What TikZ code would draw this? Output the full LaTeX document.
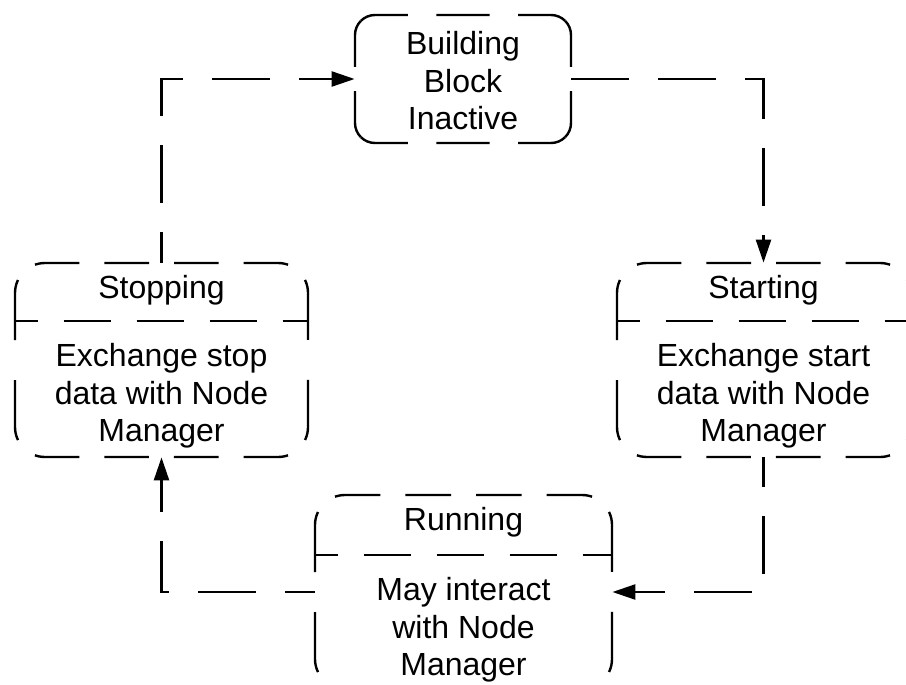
\documentclass[tikz,border=0pt]{standalone}
\usepackage{fontspec}
\setmainfont{Liberation Sans}
\usetikzlibrary{arrows.meta}
% Dashed rounded frame, drawn side by side so that each side carries its own
% dash pattern: #1,#2 = top-left, #3,#4 = bottom-right, #5 = corner radius,
% #6 = dash options of the horizontal sides, #7 = of the vertical sides.
\newcommand\dashframe[7]{%
  \pgfmathsetmacro\dfk{0.29289*#5}%
  \draw[frame,#6] ({#1+\dfk},{#2+\dfk}) arc[start angle=225,end angle=270,radius=#5]
    -- ({#3-#5},#2) arc[start angle=270,end angle=315,radius=#5];
  \draw[frame,#7] ({#3-\dfk},{#2+\dfk}) arc[start angle=-45,end angle=0,radius=#5]
    -- (#3,{#4-#5}) arc[start angle=0,end angle=45,radius=#5];
  \draw[frame,#6] ({#3-\dfk},{#4-\dfk}) arc[start angle=45,end angle=90,radius=#5]
    -- ({#1+#5},#4) arc[start angle=90,end angle=135,radius=#5];
  \draw[frame,#7] ({#1+\dfk},{#4-\dfk}) arc[start angle=135,end angle=180,radius=#5]
    -- (#1,{#2+#5}) arc[start angle=180,end angle=225,radius=#5];
}
\begin{document}
\begin{tikzpicture}[x=0.5pt,y=-0.5pt,
  frame/.style={line width=1.2pt},
  divider/.style={line width=1.2pt, dash pattern=on 23.5pt off 13pt, dash phase=12pt},
  statebox/.style={rectangle, inner sep=0pt, minimum width=#1, minimum height=97pt},
  label/.style={font=\fontsize{16}{18.75}\selectfont, align=center, inner sep=0pt},
  flow/.style={line width=1.2pt, dash pattern=on 29pt off 14.5pt,
    -{Triangle[length=11.5pt,width=7.5pt]}},
  wideh/.style={dash pattern=on 22.3pt off 12.5pt, dash phase=28.1pt},
  widerh/.style={dash pattern=on 22.8pt off 12.5pt, dash phase=28.6pt},
  tallv/.style={dash pattern=on 30.25pt off 20pt on 30.25pt off 10.05pt, dash phase=85.55pt},
  smallh/.style={dash pattern=on 48.5pt off 14.25pt on 26.7pt off 14.25pt, dash phase=24.25pt},
  smallv/.style={dash pattern=on 47.5pt off 12.2pt, dash phase=23.75pt}
]
\useasboundingbox (0,0) rectangle (906,685);
\clip (0,0) rectangle (906,685);

% state boxes (outline nodes used as anchors)
\node[statebox=108pt, minimum height=64pt] (bb) at (463,79) {};
\node[statebox=146.5pt] (stop) at (161.5,360) {};
\node[statebox=146.5pt] (start) at (763.5,360) {};
\node[statebox=148.5pt] (run) at (463.5,592) {};

% dashed frames
\dashframe{355}{15}{571}{143}{20}{smallh}{smallv}
\dashframe{15}{263}{308}{457}{30}{wideh}{tallv}
\dashframe{617}{263}{910}{457}{30}{wideh}{tallv}
\dashframe{315}{495}{612}{689}{30}{widerh}{tallv}

% compartment dividers
\draw[divider] (stop.west |- 0,321) -- (stop.east |- 0,321);
\draw[divider] (start.west |- 0,321) -- (start.east |- 0,321);
\draw[divider] (run.west |- 0,555) -- (run.east |- 0,555);

% texts
\node[label] (bbtext) at (463,81) {Building\\Block\\Inactive};
\node[label] (stoptitle) at (161.5,290) {Stopping};
\node[label] (stopbody) at (161.5,396) {Exchange stop\\data with Node\\Manager};
\node[label] (starttitle) at (763.5,290) {Starting};
\node[label] (startbody) at (763.5,396) {Exchange start\\data with Node\\Manager};
\node[label] (runtitle) at (463.5,522) {Running};
\node[label] (runbody) at (463.5,630) {May interact\\with Node\\Manager};

% transitions
\draw[flow, dash phase=13.5pt] (stop.north) |- (bb.west);
\draw[flow] (bb.east) -| (start.north);
\draw[flow, dash phase=14pt] (start.south) |- (run.east);
\draw[flow, dash phase=14pt] (run.west) -| (stop.south);
\end{tikzpicture}
\end{document}
